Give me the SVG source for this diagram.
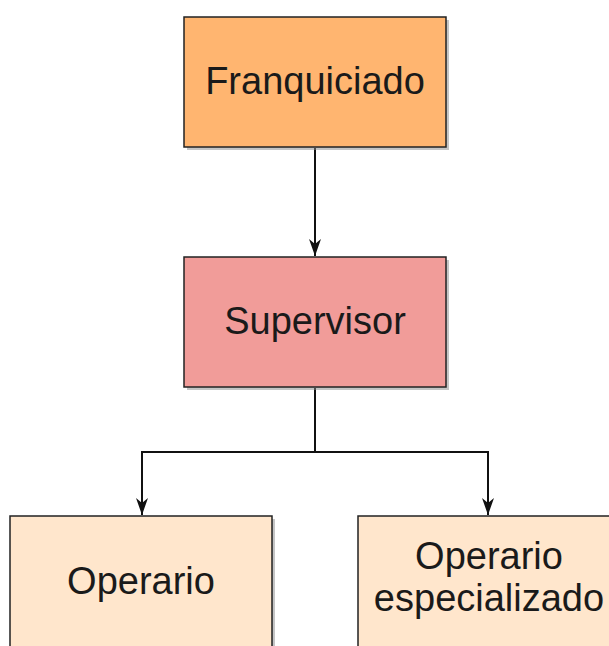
<svg xmlns="http://www.w3.org/2000/svg" width="609" height="646" viewBox="0 0 609 646">
<style>
.box{stroke:#222;stroke-width:1.5}
.sh{fill:#8c8c8c;opacity:0.5}
.t{font-family:"Liberation Sans",Arial,sans-serif;font-size:38px;fill:#1a1a1a;text-anchor:middle}
.c{fill:none;stroke:#111;stroke-width:2}
</style>
<defs>
<marker id="ah" viewBox="0 0 12 17" refX="6" refY="17" markerWidth="12" markerHeight="17" markerUnits="userSpaceOnUse" orient="0">
<path d="M0,0 L6,17 L12,0 L6,5 Z" fill="#111"/>
</marker>
</defs>
<rect width="609" height="646" fill="#fff"/>
<g id="connectors">
<path class="c" d="M315,148 V256" marker-end="url(#ah)"/>
<path class="c" d="M315,388 V452 H142 V515" marker-end="url(#ah)"/>
<path class="c" d="M315,452 H488 V515" marker-end="url(#ah)"/>
</g>
<g id="franquiciado">
<rect class="sh" x="187" y="20" width="262" height="130"/>
<rect class="box" x="184" y="17" width="262" height="130" fill="#FFB570"/>
<text class="t" x="315" y="94">Franquiciado</text>
</g>
<g id="supervisor">
<rect class="sh" x="187" y="260" width="262" height="130"/>
<rect class="box" x="184" y="257" width="262" height="130" fill="#F19C99"/>
<text class="t" x="315" y="334">Supervisor</text>
</g>
<g id="operario">
<rect class="sh" x="13" y="519" width="262" height="140"/>
<rect class="box" x="10" y="516" width="262" height="140" fill="#FFE6CC"/>
<text class="t" x="141" y="594">Operario</text>
</g>
<g id="operario-especializado">
<rect class="sh" x="361" y="519" width="262" height="140"/>
<rect class="box" x="358" y="516" width="262" height="140" fill="#FFE6CC"/>
<text class="t" x="489" y="569">Operario</text>
<text class="t" x="489" y="611">especializado</text>
</g>
</svg>
